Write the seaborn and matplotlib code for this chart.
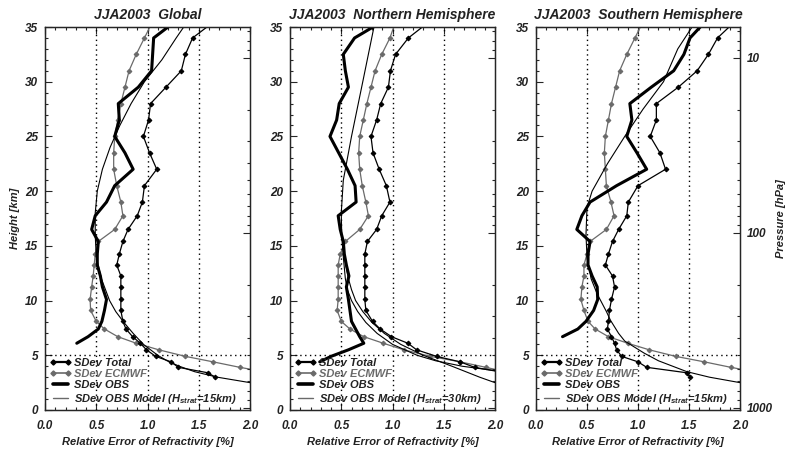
import numpy as np
import matplotlib
matplotlib.use("Agg")
import matplotlib.pyplot as plt
from matplotlib.lines import Line2D
from matplotlib.ticker import MultipleLocator, FixedLocator, LogLocator, NullFormatter
import seaborn as sns

nan = np.nan

# common height levels (km) of the profile points
levels = [35.5, 34.0, 32.5, 31.0, 29.5, 28.0, 26.5, 25.0, 23.5, 22.0, 20.5, 19.0,
          17.75, 16.5, 15.4, 14.25, 13.25, 12.25, 11.25, 10.1, 9.1, 8.1, 7.4,
          6.7, 6.1, 5.5, 4.9, 4.4, 3.9, 3.4, 3.0]

# Global
glob_total = [1.65, 1.44, 1.37, 1.33, 1.18, 1.03, 1.01, 0.96, 1.02, 1.09, 0.97, 0.95,
              0.90, 0.81, 0.76, 0.725, 0.70, 0.74, 0.74, 0.74, 0.74, 0.76, 0.79,
              0.855, 0.93, 0.99, 1.08, 1.23, 1.30, 1.59, 1.66]
glob_ecmwf = [1.05, 0.97, 0.89, 0.82, 0.78, 0.74, 0.71, 0.68, 0.67, 0.67, 0.70, 0.74,
              0.76, 0.68, 0.52, 0.49, 0.48, 0.47, 0.455, 0.44, 0.445, 0.50, 0.58,
              0.71, 0.89, 1.11, 1.37, 1.64, 1.90, 2.20, nan]
glob_obs = [1.27, 1.06, 1.05, 1.04, 0.91, 0.715, 0.725, 0.68, 0.78, 0.86, 0.68, 0.60,
            0.49, 0.455, 0.52, 0.51, 0.51, 0.54, 0.56, 0.60, 0.58, 0.555, 0.52,
            0.42, 0.31, nan, nan, nan, nan, nan, nan]
glob_model_h = [35.5, 34, 32, 30, 28, 26, 24, 22, 20, 18, 16, 14, 12, 10, 9, 8, 7, 6,
                5, 4.5, 4, 3.5, 3, 2.5, 2.2]
glob_model = [1.39, 1.28, 1.14, 0.97, 0.84, 0.73, 0.635, 0.56, 0.51, 0.49, 0.49, 0.50,
              0.55, 0.63, 0.69, 0.77, 0.86, 0.96, 1.10, 1.19, 1.31, 1.46, 1.68, 2.0, 2.2]

# Northern Hemisphere
nh_total = [1.36, 1.155, 1.03, 0.98, 0.96, 0.885, 0.845, 0.79, 0.81, 0.87, 0.94, 0.975,
            0.895, 0.845, 0.755, 0.73, 0.73, 0.73, 0.73, 0.73, 0.74, 0.805, 0.88,
            0.99, 1.15, 1.235, 1.43, 1.66, 1.80, 2.10, nan]
nh_ecmwf = [1.03, 0.975, 0.895, 0.83, 0.79, 0.75, 0.715, 0.68, 0.67, 0.68, 0.705, 0.74,
            0.765, 0.68, 0.54, 0.49, 0.47, 0.47, 0.47, 0.47, 0.46, 0.50, 0.585,
            0.72, 0.91, 1.11, 1.37, 1.66, 1.91, 2.15, nan]
nh_obs = [0.90, 0.63, 0.52, 0.54, 0.57, 0.48, 0.455, 0.39, 0.475, 0.56, 0.635, 0.645,
          0.47, 0.49, 0.52, 0.53, 0.55, 0.575, 0.55, 0.57, 0.585, 0.60, 0.64,
          0.68, 0.72, 0.57, 0.40, 0.29, nan, nan, nan]
nh_model_h = [35.5, 30, 25, 21, 18, 16, 14, 12, 11, 10, 9, 8, 7, 6, 5, 4.5, 4, 3.6, 3.4]
nh_model = [0.83, 0.71, 0.60, 0.52, 0.50, 0.505, 0.52, 0.54, 0.56, 0.60, 0.66, 0.74,
            0.85, 1.00, 1.24, 1.42, 1.68, 2.0, 2.15]
nh_model2_h = [16, 14, 12, 11, 10, 9, 8, 7, 6, 5, 4, 3, 2.5, 2.3]
nh_model2 = [0.51, 0.53, 0.57, 0.60, 0.64, 0.71, 0.80, 0.92, 1.08, 1.30, 1.58, 1.85,
             2.0, 2.1]

# Southern Hemisphere
sh_total = [1.95, 1.78, 1.69, 1.58, 1.395, 1.18, 1.18, 1.12, 1.215, 1.27, 1.00, 0.905,
            0.89, 0.81, 0.75, 0.71, 0.68, 0.75, 0.77, 0.74, 0.72, 0.71, 0.70,
            0.74, 0.77, 0.79, 0.84, 1.00, 1.085, 1.48, 1.51]
sh_ecmwf = [1.05, 0.97, 0.89, 0.82, 0.78, 0.74, 0.71, 0.68, 0.67, 0.68, 0.69, 0.735,
            0.765, 0.69, 0.53, 0.50, 0.47, 0.47, 0.45, 0.44, 0.47, 0.51, 0.58,
            0.71, 0.90, 1.11, 1.37, 1.65, 1.91, 2.20, nan]
sh_obs = [1.66, 1.51, 1.45, 1.35, 1.13, 0.92, 0.94, 0.89, 0.99, 1.085, 0.79, 0.53,
          0.45, 0.40, 0.53, 0.51, 0.51, 0.55, 0.60, 0.605, 0.565, 0.49, 0.41,
          0.26, nan, nan, nan, nan, nan, nan, nan]
sh_model_h = [35.5, 35, 33, 30, 27.5, 25, 22.5, 20, 18.5, 16, 14, 12, 10.6, 9, 8.2, 7,
              6.3, 5.2, 4.5, 3.5, 3, 2.5, 2.3]
sh_model = [1.55, 1.53, 1.39, 1.25, 1.05, 0.87, 0.70, 0.55, 0.50, 0.49, 0.50, 0.54,
            0.60, 0.69, 0.73, 0.81, 0.87, 1.06, 1.20, 1.48, 1.70, 2.0, 2.15]

titles = ["JJA2003  Global", "JJA2003  Northern Hemisphere", "JJA2003  Southern Hemisphere"]
model_labels = ["SDev OBS Model (H$_{strat}$=15km)", "SDev OBS Model (H$_{strat}$=30km)",
                "SDev OBS Model (H$_{strat}$=15km)"]
pressure_ticks = [10, 100, 1000]

sns.set_style("ticks")
plt.rcParams['font.family'] = ['Liberation Sans', 'DejaVu Sans']
plt.rcParams['font.weight'] = 'bold'
plt.rcParams['font.style'] = 'italic'
plt.rcParams['axes.titleweight'] = 'bold'
plt.rcParams['axes.labelweight'] = 'bold'
plt.rcParams['mathtext.fontset'] = 'custom'
plt.rcParams['mathtext.rm'] = 'Liberation Sans:bold:italic'
plt.rcParams['mathtext.it'] = 'Liberation Sans:bold:italic'
plt.rcParams['mathtext.bf'] = 'Liberation Sans:bold:italic'

GRAY = '#6a6a6a'
TXT = '#222222'


def h2p(h):
    # pressure scale (1000 hPa near 0 km, 16 km per decade)
    return 1000.0 * 10 ** (-(np.asarray(h) - 0.2) / 16.0)


def panel(ax, total, ecmwf, obs, models, title, mlabel, last=False):
    for xv in (0.5, 1.0, 1.5):
        ax.axvline(xv, color='k', ls=(0, (1, 2.5)), lw=1.0, zorder=1)
    ax.axhline(5, color='k', ls=(0, (1, 2.5)), lw=1.0, zorder=1)

    sns.lineplot(x=ecmwf, y=levels, sort=False, estimator=None, ax=ax, color=GRAY,
                 lw=0.9, marker='D', ms=2.4, mec=GRAY, mfc=GRAY, zorder=3)
    sns.lineplot(x=total, y=levels, sort=False, estimator=None, ax=ax, color='k',
                 lw=0.9, marker='D', ms=2.4, mec='k', mfc='k', zorder=4)
    for mh, mv in models:
        sns.lineplot(x=mv, y=mh, sort=False, estimator=None, ax=ax, color='k',
                     lw=0.8, zorder=3)
    sns.lineplot(x=obs, y=levels, sort=False, estimator=None, ax=ax, color='k',
                 lw=2.2, zorder=5)

    ax.set_xlim(0, 2.0)
    ax.set_ylim(0, 35)
    ax.xaxis.set_major_locator(MultipleLocator(0.5))
    ax.xaxis.set_minor_locator(MultipleLocator(0.1))
    ax.yaxis.set_major_locator(MultipleLocator(5))
    ax.yaxis.set_minor_locator(MultipleLocator(1))
    ax.set_xticklabels([f"{v:.1f}" for v in ax.get_xticks()])
    ax.tick_params(which='both', direction='in', top=True, right=False,
                   labelsize=8.5, labelcolor=TXT, width=0.8)
    ax.tick_params(which='major', length=5)
    ax.tick_params(which='minor', length=2.5)
    ax.tick_params(axis='x', pad=7)
    ax.tick_params(axis='y', pad=5)
    ax.set_xlabel("Relative Error of Refractivity [%]", fontsize=8, color=TXT, labelpad=4)
    ax.set_ylabel("")
    ax.set_title(title, fontsize=10, color=TXT, pad=6)
    for s in ax.spines.values():
        s.set_linewidth(1.0)

    tw = ax.twinx()
    tw.set_yscale('log')
    tw.set_ylim(h2p(0), h2p(35))
    tw.yaxis.set_major_locator(FixedLocator(pressure_ticks))
    tw.yaxis.set_minor_locator(LogLocator(base=10, subs=np.arange(2, 10)))
    tw.yaxis.set_minor_formatter(NullFormatter())
    tw.set_yticks(pressure_ticks)
    tw.set_yticklabels([str(p) for p in pressure_ticks])
    tw.tick_params(which='both', direction='in', labelsize=8.5, labelcolor=TXT,
                   labelright=last, width=0.8, pad=5)
    tw.tick_params(which='major', length=5)
    tw.tick_params(which='minor', length=2.5)
    if last:
        tw.set_ylabel("Pressure [hPa]", fontsize=8, color=TXT, labelpad=2)

    handles = [
        Line2D([], [], color='k', lw=1.6, marker='D', ms=2.6),
        Line2D([], [], color=GRAY, lw=1.2, marker='D', ms=2.6),
        Line2D([], [], color='k', lw=2.6),
        Line2D([], [], color=GRAY, lw=1.0),
    ]
    labels = ["SDev Total", "SDev ECMWF", "SDev OBS", mlabel]
    leg = ax.legend(handles, labels, loc='lower left', frameon=False, numpoints=2,
                    fontsize=8, handlelength=2.0, handletextpad=0.2, labelspacing=0.12,
                    borderaxespad=0.2, borderpad=0.2)
    for i, t in enumerate(leg.get_texts()):
        t.set_color(GRAY if i == 1 else TXT)
    leg.set_zorder(10)


fig = plt.figure(figsize=(7.87, 4.55), dpi=100)
W, H = 787.0, 455.0
bottom = (H - 410) / H
height = 383 / H
ax1 = fig.add_axes([45 / W, bottom, 205 / W, height])
ax2 = fig.add_axes([290 / W, bottom, 205 / W, height])
ax3 = fig.add_axes([536 / W, bottom, 204 / W, height])

panel(ax1, glob_total, glob_ecmwf, glob_obs, [(glob_model_h, glob_model)],
      titles[0], model_labels[0])
panel(ax2, nh_total, nh_ecmwf, nh_obs, [(nh_model_h, nh_model), (nh_model2_h, nh_model2)],
      titles[1], model_labels[1])
panel(ax3, sh_total, sh_ecmwf, sh_obs, [(sh_model_h, sh_model)],
      titles[2], model_labels[2], last=True)

ax1.set_ylabel("Height [km]", fontsize=8, color=TXT, labelpad=4)

fig.savefig("out.png", dpi=100)
